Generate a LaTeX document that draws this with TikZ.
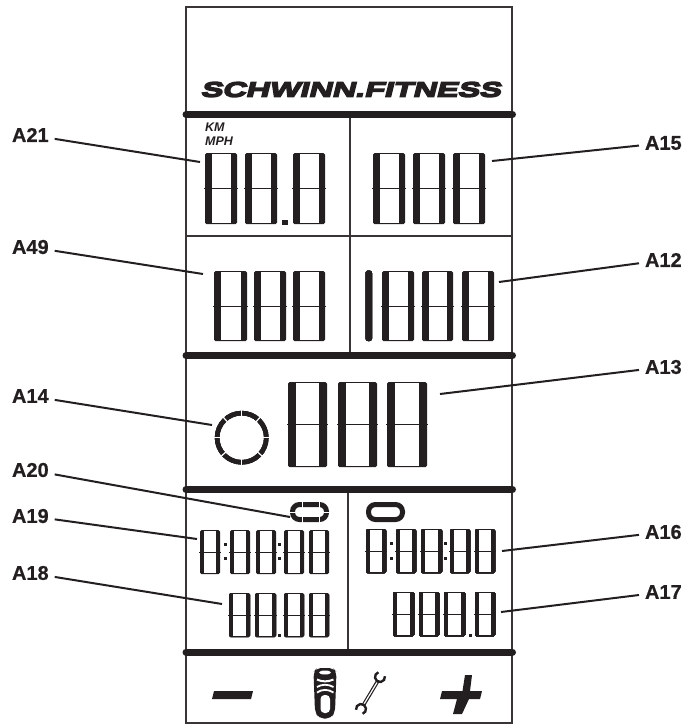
\documentclass[tikz,border=0pt]{standalone}
\usepackage{fontspec}
\setmainfont[BoldFeatures={FakeBold=0.6}]{Liberation Sans}
\newfontfamily\logofont[FakeSlant=0.25,FakeStretch=1.54,BoldFeatures={FakeBold=7}]{Liberation Sans}
\definecolor{lcdink}{HTML}{231F20}
\tikzset{
	panel/.style={line width=2pt, draw=lcdink!90},
	bar/.style={line width=7pt, draw=lcdink, line cap=round},
	leader/.style={line width=2pt, draw=lcdink},
	tag/.style={font=\fontsize{20}{20}\selectfont\bfseries, inner sep=0pt, outer sep=6pt, text=lcdink},
	pill/.style={line width=5pt, draw=lcdink, rounded corners=7pt}
}
\newcommand{\lcddigit}[5]{
	\fill [lcdink, rounded corners=1.5pt] (#1,#3) rectangle (#2,#4);
	\fill [white] (#1+#5,#3+1.3) rectangle (#2-#5,#4-1.3);
	\draw [lcdink, line width=0.9pt] ({#1-1},{(#3+#4)/2}) -- ({#2+1},{(#3+#4)/2});
}
\begin{document}
\begin{tikzpicture}[x=1pt, y=-1pt]
		\useasboundingbox (0,0) rectangle (688,724);
		% frame and dividers
		\draw [panel] (186,7) rectangle (511.5,723);
		\draw [panel] (186,235.5)--(511.5,235.5);
		\draw [panel] (349.5,114)--(349.5,355);
		\draw [panel] (347.7,489)--(347.7,652);
		\foreach \ybar in {114.5,355.5,489.5,652}
			\draw [bar] (186,\ybar)--(512.5,\ybar);
		\node (logo) [anchor=center, inner sep=0pt, text=lcdink, font=\logofont\fontsize{21}{21}\selectfont\bfseries] at (350.5,89.5) {SCHWINN.FITNESS};
		\node (km) [anchor=west, inner sep=0pt, text=lcdink, font=\fontsize{12.5}{12.5}\selectfont\bfseries\itshape] at (205,127) {KM};
		\node (mph) [anchor=west, inner sep=0pt, text=lcdink, font=\fontsize{12.5}{12.5}\selectfont\bfseries\itshape] at (205,141) {MPH};
		% upper digits
		\foreach \xa/\xb in {205/237,245/277,293/325,373/405,413/445,453/485}
			\lcddigit{\xa}{\xb}{153}{224}{6.5}
		\fill [lcdink] (282,220) rectangle (288,225);
		\foreach \xa/\xb in {214/247,254/286,293/325,382/414,422/453,462/494}
			\lcddigit{\xa}{\xb}{271}{341}{6.5}
		\fill [lcdink, rounded corners=2.5pt] (365.5,270.5) rectangle (372,341);
		% big digits and ring
		\foreach \xa/\xb in {288/327,338/377,387/427}
			\lcddigit{\xa}{\xb}{382}{467}{8}
		\draw [lcdink, line width=4.6pt] (241.7,437.7) circle [radius=24.6];
		\foreach \ang in {0,42,90,138,180,228,270,312}
			\draw [white, line width=1.2pt] (241.7,437.7) ++(\ang:20) -- ++(\ang:9);
		% lower digits
		\foreach \xa/\xb in {200/220,230/250,256/276,284/304,309/329}
			\lcddigit{\xa}{\xb}{530}{574}{4}
		\foreach \xa/\xb in {229/250,255/276,284/304,309/329}
			\lcddigit{\xa}{\xb}{593}{637}{4}
		\foreach \xa/\xb in {366/386,396/416,421/442,450/470,475/495}
			\lcddigit{\xa}{\xb}{529}{573}{4}
		\foreach \xa/\xb in {393/414,419/439,444/465,475/495}
			\lcddigit{\xa}{\xb}{592}{636}{4}
		\foreach \xd/\yd in {225.3/544,225.3/558,279.3/544,279.3/558,391/543,391/558,445/543,445/558,279/635,470/635}
			\fill [lcdink] (\xd-1.5,\yd-1.5) rectangle (\xd+1.5,\yd+1.5);
		% the two pills
		\draw [pill] (292.5,504.5) rectangle (326.5,519.5);
		\draw [pill] (368.5,504.5) rectangle (402.5,519.5);
		\draw [white, line width=0.7pt] (302,501)--(302,508);
		\draw [white, line width=0.7pt] (302,516)--(302,523);
		\draw [white, line width=0.7pt] (319,501)--(319,508);
		\draw [white, line width=0.7pt] (319,516)--(319,523);
		\draw [white, line width=0.7pt] (289,512)--(296,512);
		\draw [white, line width=0.7pt] (323,512)--(330,512);
		% bottom keys
		\fill [lcdink] (214,691)--(253,691)--(251,699)--(212,699)--cycle;
		\fill [lcdink] (442,691)--(462.5,691)--(465,675)--(472,675)--(470,691)--(482,691)--(480,699)--(469,699)--(462,714)--(453,714)--(457,699)--(440,699)--cycle;
		\fill [lcdink, rounded corners=5pt] (313.5,672)--(317,668)--(333,668)--(336.5,672)--(335,712)--(331,718.5)--(319,718.5)--(315,712)--cycle;
		\fill [white] (325,672.5) ellipse [x radius=6, y radius=2];
		\draw [white, line width=2pt] (317,679.5) .. controls (322,682) and (328,682) .. (333.5,679.5);
		\draw [white, line width=1.8pt] (317,687) .. controls (322,684) and (328,684) .. (333.5,687);
		\draw [white, line width=1.8pt] (317,692.5) .. controls (322,689) and (328,689) .. (333.5,692.5);
		\fill [white, rounded corners=4pt] (320.5,695)--(330,695)--(330,713)--(320.5,713)--cycle;
		% wrench
		\draw [lcdink, line width=3.6pt] (363.5,705)--(377.5,681.5);
		\draw [white, line width=1.2pt] (364,704)--(377,682.5);
		\draw [lcdink, line width=2.4pt] (380,677) ++(-9:5) arc [start angle=-9, end angle=251, radius=5];
		\draw [lcdink, line width=2.4pt] (361,709) ++(171:5) arc [start angle=171, end angle=431, radius=5];
		% labels and leaders
		\node (a21) [tag, anchor=west] at (6,135) {A21};
		\node (a49) [tag, anchor=west] at (6,247) {A49};
		\node (a14) [tag, anchor=west] at (6,396) {A14};
		\node (a20) [tag, anchor=west] at (6,470) {A20};
		\node (a19) [tag, anchor=west] at (6,516) {A19};
		\node (a18) [tag, anchor=west] at (6,573) {A18};
		\node (a15) [tag, anchor=west] at (639,143) {A15};
		\node (a12) [tag, anchor=west] at (639,260) {A12};
		\node (a13) [tag, anchor=west] at (639,367) {A13};
		\node (a16) [tag, anchor=west] at (639,532) {A16};
		\node (a17) [tag, anchor=west] at (639,592) {A17};
		\coordinate (p21) at (200,162);
		\coordinate (p49) at (203,274);
		\coordinate (p14) at (212,425);
		\coordinate (p20) at (290,517);
		\coordinate (p19) at (197,539);
		\coordinate (p18) at (222,604);
		\coordinate (p15) at (492,161);
		\coordinate (p12) at (499,282);
		\coordinate (p13) at (440,394);
		\coordinate (p16) at (502,551);
		\coordinate (p17) at (501,612);
		\foreach \tagname in {21,49,14,20,19,18,15,12,13,16,17}
			\draw [leader] (a\tagname)--(p\tagname);
	\end{tikzpicture}
\end{document}
